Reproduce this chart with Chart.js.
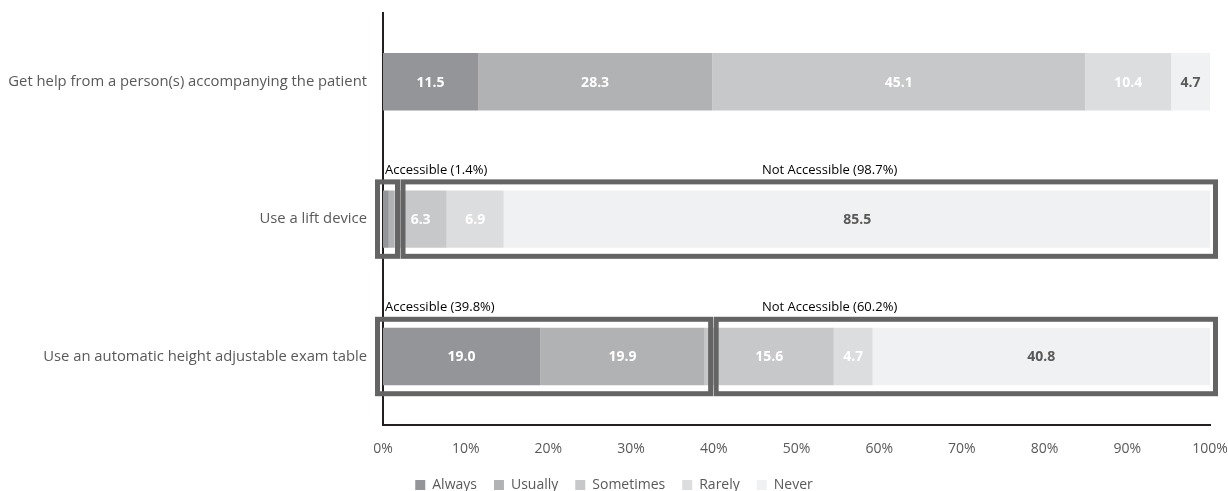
<!DOCTYPE html>
<html>
<head>
<meta charset="utf-8">
<script src="https://cdn.jsdelivr.net/npm/chart.js@4.4.1/dist/chart.umd.min.js"></script>
<style>
    html, body { margin: 0; padding: 0; background: #ffffff; }
    #wrap { position: relative; width: 1228px; height: 491px; }
</style>
</head>
<body>
<div id="wrap"><canvas id="myChart"></canvas></div>
<script>
const categories = [
    'Get help from a person(s) accompanying the patient',
    'Use a lift device',
    'Use an automatic height adjustable exam table'
];
const seriesNames = ['Always', 'Usually', 'Sometimes', 'Rarely', 'Never'];
const always = [11.5, 0.7, 19.0];
const usually = [28.3, 0.7, 19.9];
const sometimes = [45.1, 6.3, 15.6];
const rarely = [10.4, 6.9, 4.7];
const never = [4.7, 85.5, 40.8];
const tickValues = [0, 10, 20, 30, 40, 50, 60, 70, 80, 90, 100];

// accessible / not accessible groups drawn as boxes
const groupRow = [1, 1, 2, 2];
const groupName = ['Accessible (1.4%)', 'Not Accessible (98.7%)', 'Accessible (39.8%)', 'Not Accessible (60.2%)'];
const groupFrom = [0, 1.4, 0, 39.8];
const groupTo = [1.4, 100, 39.8, 100];

const colors = ['#939598', '#b1b2b4', '#c7c8ca', '#dcdddf', '#f0f1f2'];
const FONT = '"Open Sans", sans-serif';

const seriesValues = [always, usually, sometimes, rarely, never];

const valueLabels = {
    id: 'valueLabels',
    afterDatasetsDraw(chart) {
        const ctx = chart.ctx;
        ctx.save();
        ctx.font = 'bold 14px ' + FONT;
        ctx.textAlign = 'center';
        ctx.textBaseline = 'middle';
        chart.data.datasets.forEach((ds, i) => {
            const meta = chart.getDatasetMeta(i);
            meta.data.forEach((bar, j) => {
                const v = ds.data[j];
                if (v < 2) return;
                ctx.fillStyle = i === 4 ? '#595959' : '#ffffff';
                ctx.fillText(v.toFixed(1), (bar.x + bar.base) / 2, bar.y + 1);
            });
        });
        ctx.restore();
    }
};

const groupBoxes = {
    id: 'groupBoxes',
    afterDatasetsDraw(chart) {
        const ctx = chart.ctx;
        const xs = chart.scales.x;
        const bars = chart.getDatasetMeta(0).data;
        const prevRight = {};
        ctx.save();
        groupRow.forEach((row, k) => {
            const bar = bars[row];
            const half = bar.height / 2;
            let left = xs.getPixelForValue(groupFrom[k]) + (groupFrom[k] === 0 ? -5.5 : 4);
            if (prevRight[row] !== undefined) {
                left = Math.max(left, prevRight[row] + 5.5);
            }
            let right = xs.getPixelForValue(groupTo[k]) + (groupTo[k] === 100 ? 5.5 : -1.5);
            right = Math.max(right, left + 20);
            prevRight[row] = right;
            const top = bar.y - half - 8.5;
            const bottom = bar.y + half + 8.5;
            ctx.strokeStyle = '#646464';
            ctx.lineWidth = 5;
            ctx.strokeRect(left, top, right - left, bottom - top);

            ctx.fillStyle = '#000000';
            ctx.font = '13px ' + FONT;
            ctx.textBaseline = 'middle';
            if (groupFrom[k] === 0) {
                ctx.textAlign = 'left';
                ctx.fillText(groupName[k], xs.getPixelForValue(0) + 2, top - 11.5);
            } else {
                ctx.textAlign = 'center';
                ctx.fillText(groupName[k], xs.getPixelForValue(54), top - 11.5);
            }
        });
        ctx.restore();
    }
};

const ctx = document.getElementById('myChart').getContext('2d');

let myChart = new Chart(ctx, {
    type: 'bar',
    data: {
        labels: categories,
        datasets: seriesNames.map((name, i) => ({
            label: name,
            data: seriesValues[i],
            backgroundColor: colors[i],
            borderWidth: 0
        }))
    },
    options: {
        indexAxis: 'y',
        responsive: true,
        maintainAspectRatio: false,
        animation: false,
        layout: {
            padding: { top: 13, right: 0, left: 0, bottom: -11 }
        },
        plugins: {
            legend: {
                position: 'bottom',
                labels: {
                    boxWidth: 10,
                    boxHeight: 10,
                    padding: 17,
                    color: '#595959',
                    font: { family: FONT, size: 14 }
                }
            },
            tooltip: { enabled: false }
        },
        scales: {
            x: {
                stacked: true,
                min: 0,
                max: 100,
                afterBuildTicks(scale) {
                    scale.ticks = tickValues.map(v => ({ value: v }));
                },
                afterFit(scale) {
                    scale.height -= 11;
                    scale.paddingRight = 18;
                },
                grid: { display: false, drawTicks: false },
                border: { display: true, color: '#231f20', width: 2 },
                ticks: {
                    padding: 15,
                    color: '#595959',
                    font: { family: FONT, size: 14 },
                    callback: v => v + '%'
                }
            },
            y: {
                stacked: true,
                grid: { display: false, drawTicks: false },
                border: { display: true, color: '#231f20', width: 2 },
                ticks: {
                    padding: 16,
                    color: '#595959',
                    font: { family: FONT, size: 14.8 }
                },
                afterFit(scale) {
                    scale.width = 383;
                    scale.paddingTop = 0;
                    scale.paddingBottom = 0;
                }
            }
        },
        datasets: {
            bar: {
                categoryPercentage: 1,
                barPercentage: 0.418
            }
        }
    },
    plugins: [valueLabels, groupBoxes]
});
</script>
</body>
</html>
